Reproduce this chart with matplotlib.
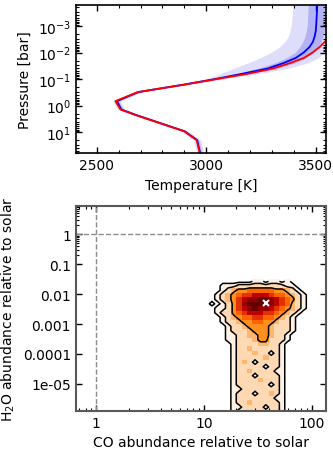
import numpy as np
import matplotlib
matplotlib.use('Agg')
import matplotlib.pyplot as plt
from matplotlib.colors import PowerNorm
from matplotlib.ticker import FixedLocator, MultipleLocator, LogLocator, NullFormatter

# Perfil P-T (presion en bar, temperaturas en K)
pressure = [63, 20, 9.3, 2.3, 1.4, 0.68, 0.31, 0.16, 0.1, 0.063, 0.04, 0.025,
            0.016, 0.01, 0.0063, 0.004, 0.0025, 0.0016, 0.001, 0.0005, 0.00025, 0.00014]
t_best = [2970, 2956, 2899, 2679, 2608, 2585, 2687, 2905, 3047, 3190, 3305, 3382,
          3445, 3485, 3516, 3540, 3562, 3588, 3610, 3640, 3665, 3685]
t_med = [2972, 2958, 2901, 2682, 2612, 2592, 2689, 2900, 3040, 3165, 3280, 3352,
         3408, 3444, 3470, 3486, 3494, 3499, 3501, 3503, 3505, 3506]
t_1sig_lo = [2964, 2950, 2893, 2674, 2604, 2584, 2681, 2890, 3022, 3135, 3232, 3310,
             3365, 3405, 3425, 3440, 3450, 3456, 3460, 3462, 3464, 3465]
t_1sig_hi = [2980, 2966, 2909, 2690, 2620, 2600, 2697, 2912, 3058, 3195, 3320, 3402,
             3455, 3488, 3508, 3523, 3532, 3537, 3540, 3541, 3542, 3542]
t_2sig_lo = [2956, 2942, 2885, 2666, 2596, 2576, 2673, 2878, 3000, 3060, 3125, 3188,
             3245, 3295, 3332, 3357, 3374, 3381, 3387, 3391, 3394, 3397]
t_2sig_hi = [2988, 2974, 2917, 2698, 2628, 2608, 2705, 2925, 3080, 3235, 3370, 3460,
             3510, 3537, 3560, 3575, 3590, 3600, 3605, 3610, 3612, 3615]
p_ticks = [1e-3, 1e-2, 1e-1, 1, 10]

# Histograma 2D de la posterior (log10 abundancia relativa a solar)
co_edges = np.linspace(1.0, 2.0, 21)
h2o_edges = np.linspace(-6.0, -1.5, 31)
# filas de arriba (H2O alto) hacia abajo
hist_rows = [
    "00000000011011010000",
    "00011122222222211000",
    "00012344555554432100",
    "00123456677765543210",
    "00123467889987654210",
    "01012468999987653210",
    "00112467898876543210",
    "00122456777665432100",
    "00012345566554321000",
    "00012234455443221000",
    "00001223444432221000",
    "00001222344432221000",
    "00001122334432210000",
    "00001122234422210000",
    "00000122223322100000",
    "00000122322222100000",
    "00000122232212100000",
    "00000122222322100000",
    "00000123212222100000",
    "00000122222122100000",
    "00000122322221100000",
    "00000122212222100000",
    "00000122223222100000",
    "00000122222212100000",
    "00000112222222100000",
    "00000122212232100000",
    "00000122222221100000",
    "00000122322222100000",
    "00000112222122100000",
    "00000122222222100000",
]
co_best = 38.0
h2o_best = 0.005

co_ticks = [1, 10, 100]
co_ticklabels = ['1', '10', '100']
h2o_ticks = [1e-5, 1e-4, 1e-3, 1e-2, 1e-1, 1]
h2o_ticklabels = ['1e-05', '0.0001', '0.001', '0.01', '0.1', '1']

plt.rcParams['font.family'] = 'DejaVu Sans'
plt.rcParams['font.size'] = 10

fig = plt.figure(figsize=(3.33, 4.52), dpi=100)
ax1 = fig.add_axes([0.228, 0.659, 0.751, 0.328])
ax2 = fig.add_axes([0.228, 0.0885, 0.751, 0.4535])

# ---- panel superior: perfil P-T
ax1.fill_betweenx(pressure, t_2sig_lo, t_2sig_hi, color='#dedefa', lw=0)
ax1.fill_betweenx(pressure, t_1sig_lo, t_1sig_hi, color='#b3b3f4', lw=0)
ax1.plot(t_med, pressure, color='blue', lw=1.3)
ax1.plot(t_best, pressure, color='red', lw=1.3)
ax1.set_yscale('log')
ax1.set_ylim(62, 1.6e-4)
ax1.set_xlim(2405, 3546)
ax1.yaxis.set_major_locator(FixedLocator(p_ticks))
ax1.set_yticklabels([r'$10^{%d}$' % round(np.log10(p)) for p in p_ticks])
ax1.yaxis.set_minor_locator(LogLocator(subs=np.arange(2, 10)))
ax1.yaxis.set_minor_formatter(NullFormatter())
ax1.xaxis.set_major_locator(FixedLocator([2500, 3000, 3500]))
ax1.xaxis.set_minor_locator(MultipleLocator(100))
ax1.set_xlabel('Temperature [K]')
ax1.set_ylabel('Pressure [bar]')
for s in ax1.spines.values():
    s.set_linewidth(1.2)

# ---- panel inferior: abundancias
dens = np.array([[int(c) for c in row] for row in hist_rows[::-1]], dtype=float)
xe = 10 ** co_edges
ye = 10 ** h2o_edges
xc = 10 ** (0.5 * (co_edges[1:] + co_edges[:-1]))
yc = 10 ** (0.5 * (h2o_edges[1:] + h2o_edges[:-1]))
ax2.pcolormesh(xe, ye, np.ma.masked_equal(dens, 0), cmap='gist_heat_r',
               norm=PowerNorm(1.5, vmin=0, vmax=11))
ax2.contour(xc, yc, dens, levels=[0.5, 1.5, 3.5], colors='k', linewidths=1.1)
ax2.plot(co_best, h2o_best, marker='x', color='white', ms=5, mew=1.5)
ax2.axvline(1, color='0.55', ls='--', lw=1.0)
ax2.axhline(1, color='0.55', ls='--', lw=1.0)
ax2.set_xscale('log')
ax2.set_yscale('log')
ax2.set_xlim(0.65, 136)
ax2.set_ylim(1.25e-6, 8.7)
ax2.xaxis.set_major_locator(FixedLocator(co_ticks))
ax2.set_xticklabels(co_ticklabels)
ax2.xaxis.set_minor_locator(LogLocator(subs=np.arange(2, 10)))
ax2.xaxis.set_minor_formatter(NullFormatter())
ax2.yaxis.set_major_locator(FixedLocator(h2o_ticks))
ax2.set_yticklabels(h2o_ticklabels)
ax2.yaxis.set_minor_locator(FixedLocator(list(np.arange(2, 10) * 0.1) + list(np.arange(2, 9))))
ax2.yaxis.set_minor_formatter(NullFormatter())
ax2.set_xlabel('CO abundance relative to solar')
ax2.set_ylabel(r'H$_2$O abundance relative to solar')
for s in ax2.spines.values():
    s.set_linewidth(1.5)
    s.set_color('0.35')

for ax in (ax1, ax2):
    ax.tick_params(which='both', direction='in', top=True, right=True, labelsize=10)
    ax.tick_params(which='major', length=4.5, width=1.0)
    ax.tick_params(which='minor', length=2.5, width=0.8)

fig.savefig('out.png', dpi=100)
plt.close()
